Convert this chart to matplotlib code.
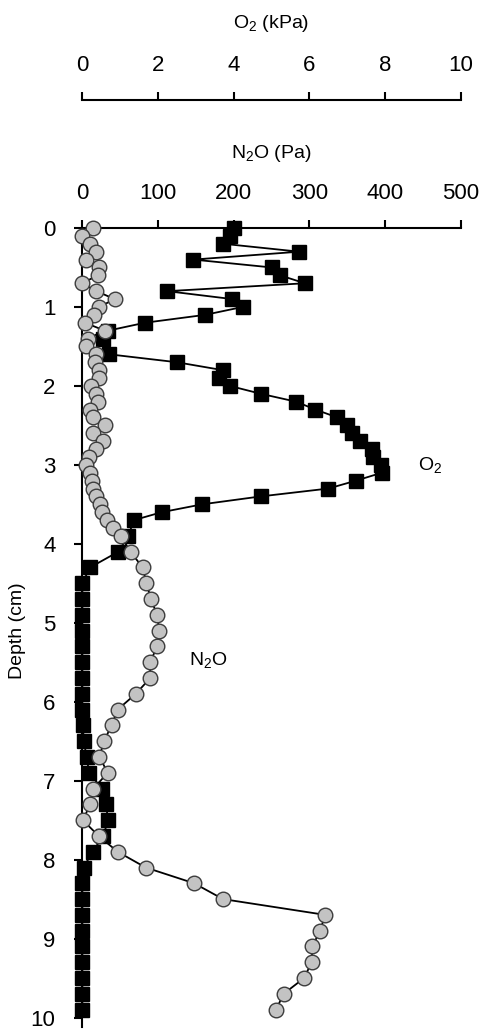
import matplotlib
matplotlib.use('Agg')
import matplotlib.pyplot as plt

plt.rcParams['font.family'] = ['Liberation Sans', 'DejaVu Sans']
plt.rcParams['mathtext.default'] = 'regular'

# O2 profile (kPa) vs depth (cm)
o2_depth = [0.0, 0.1, 0.2, 0.3, 0.4, 0.5, 0.6, 0.7, 0.8, 0.9, 1.0, 1.1, 1.2, 1.3, 1.4,
            1.6, 1.7, 1.8, 1.9, 2.0, 2.1, 2.2, 2.3, 2.4, 2.5, 2.6, 2.7, 2.8, 2.9, 3.0,
            3.1, 3.2, 3.3, 3.4, 3.5, 3.6, 3.7, 3.9, 4.1, 4.3, 4.5, 4.7, 4.9, 5.1, 5.3,
            5.5, 5.7, 5.9, 6.1, 6.3, 6.5, 6.7, 6.9, 7.1, 7.3, 7.5, 7.7, 7.9, 8.1, 8.3,
            8.5, 8.7, 8.9, 9.1, 9.3, 9.5, 9.7, 9.9]
o2_kpa = [4.01, 3.90, 3.73, 5.73, 2.94, 5.01, 5.23, 5.88, 2.25, 3.96, 4.24, 3.25, 1.66, 0.69, 0.56,
          0.72, 2.50, 3.71, 3.62, 3.90, 4.72, 5.65, 6.16, 6.74, 6.98, 7.12, 7.34, 7.64, 7.69, 7.88,
          7.91, 7.23, 6.50, 4.71, 3.17, 2.10, 1.37, 1.22, 0.96, 0.21, 0.01, 0.01, 0.01, 0.01, 0.01,
          0.01, 0.01, 0.01, 0.01, 0.02, 0.05, 0.12, 0.19, 0.52, 0.63, 0.69, 0.56, 0.28, 0.04, 0.01,
          0.01, 0.01, 0.01, 0.01, 0.01, 0.01, 0.01, 0.01]

# N2O profile (Pa) vs depth (cm)
n2o_depth = [0.0, 0.1, 0.2, 0.3, 0.4, 0.5, 0.6, 0.7, 0.8, 0.9, 1.0, 1.1, 1.2, 1.3, 1.4,
             1.5, 1.6, 1.7, 1.8, 1.9, 2.0, 2.1, 2.2, 2.3, 2.4, 2.5, 2.6, 2.7, 2.8, 2.9,
             3.0, 3.1, 3.2, 3.3, 3.4, 3.5, 3.6, 3.7, 3.8, 3.9, 4.1, 4.3, 4.5, 4.7, 4.9,
             5.1, 5.3, 5.5, 5.7, 5.9, 6.1, 6.3, 6.5, 6.7, 6.9, 7.1, 7.3, 7.5, 7.7, 7.9,
             8.1, 8.3, 8.5, 8.7, 8.9, 9.1, 9.3, 9.5, 9.7, 9.9]
n2o_pa = [15, 0, 11, 19, 5, 23, 21, 0, 19, 43, 23, 16, 4, 30, 8,
          5, 18, 17, 22, 23, 12, 19, 21, 11, 15, 31, 15, 28, 18, 9,
          5, 11, 13, 15, 19, 24, 27, 33, 41, 51, 64, 80, 85, 91, 99,
          102, 99, 90, 90, 71, 47, 39, 29, 23, 34, 15, 11, 1, 22, 47,
          84, 148, 186, 321, 314, 304, 303, 293, 266, 256]

depth_ticks = [0, 1, 2, 3, 4, 5, 6, 7, 8, 9, 10]
o2_ticks = [0, 2, 4, 6, 8, 10]
n2o_ticks = [0, 100, 200, 300, 400, 500]

W, H = 490, 1034
fig = plt.figure(figsize=(W / 100, H / 100), dpi=100)
ax = fig.add_axes([82 / W, 1 - 1027 / H, 379 / W, (1027 - 228) / H])
ax2 = ax.twiny()

# squares: O2 on the outer (upper) axis
ax.plot(o2_kpa, o2_depth, '-', color='black', lw=1.3, marker='s', ms=10.5,
        mfc='black', mec='black', clip_on=False, zorder=3)
# circles: N2O on the inner axis, drawn on top
ax2.plot(n2o_pa, n2o_depth, '-', color='black', lw=1.3, marker='o', ms=10.5,
         mfc='#c3c3c3', mec='#3c3c3c', mew=1.0, clip_on=False, zorder=3)

ax.set_ylim(10.12, 0)
ax.set_xlim(0, 10)
ax2.set_xlim(0, 500)

ax.xaxis.tick_top()
ax.set_xticks(o2_ticks)
ax.set_yticks(depth_ticks)
ax.spines['top'].set_position(('outward', 128 * 0.72))
for s in ['bottom', 'right']:
    ax.spines[s].set_visible(False)
    ax2.spines[s].set_visible(False)
ax2.spines['left'].set_visible(False)
for s in ['top', 'left']:
    ax.spines[s].set_linewidth(1.5)
ax2.spines['top'].set_linewidth(1.5)

ax.tick_params(axis='x', top=True, bottom=False, labeltop=True, labelbottom=False,
               direction='out', length=6, width=1.5, pad=11, labelsize=16)
ax.tick_params(axis='y', direction='out', length=6, width=1.5, pad=13, labelsize=16)
ax2.set_xticks(n2o_ticks)
ax2.tick_params(axis='x', direction='out', length=6, width=1.5, pad=11, labelsize=16)

fig.text(271 / W, 1 - 24 / H, 'O$_2$ (kPa)', ha='center', va='center', fontsize=14)
fig.text(271 / W, 1 - 153 / H, 'N$_2$O (Pa)', ha='center', va='center', fontsize=14)
fig.text(17 / W, 1 - 631 / H, 'Depth (cm)', rotation=90, ha='center', va='center', fontsize=14)

ax.text(8.87, 3.0, 'O$_2$', ha='left', va='center', fontsize=14)
ax2.text(141, 5.47, 'N$_2$O', ha='left', va='center', fontsize=14)

fig.savefig('out.png', dpi=100)
